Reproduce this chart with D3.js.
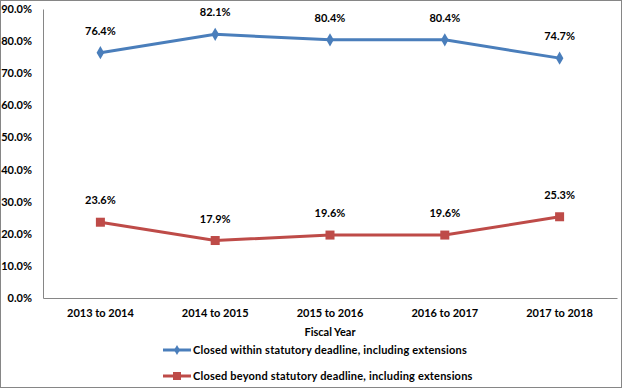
<!DOCTYPE html>
<html>
  <head>
    <script src="https://cdn.jsdelivr.net/npm/d3@7"></script>
    <style>
      body { margin: 0; background: #fff; }
      text { font-family: Lato, "Open Sans", sans-serif; font-weight: bold; font-size: 11px; fill: #000; }
    </style>
  </head>
  <body>
    <div id="main"></div>
  <script>
    var svgWidth = 623;
    var svgHeight = 389;

    var categories = ["2013 to 2014", "2014 to 2015", "2015 to 2016", "2016 to 2017", "2017 to 2018"];
    var withinValues = [76.4, 82.1, 80.4, 80.4, 74.7];
    var beyondValues = [23.6, 17.9, 19.6, 19.6, 25.3];
    var yTicks = [0, 10, 20, 30, 40, 50, 60, 70, 80, 90];
    var seriesNames = ["Closed within statutory deadline, including extensions",
                       "Closed beyond statutory deadline, including extensions"];
    var colors = ["#4a7ebb", "#be4b48"];

    var margin = { left: 43, right: 6, top: 9, bottom: 91 };

    var svg = d3.select("#main").append("svg")
      .attr("width", svgWidth)
      .attr("height", svgHeight);

    // outer border
    svg.append("rect")
      .attr("x", 0.5).attr("y", 0.5)
      .attr("width", svgWidth - 2).attr("height", svgHeight - 2)
      .style("fill", "none").style("stroke", "#868686");

    var x = d3.scaleBand()
      .domain(categories)
      .range([margin.left, svgWidth - margin.right]);

    var y = d3.scaleLinear()
      .domain([0, 90])
      .range([svgHeight - margin.bottom, margin.top]);

    // y axis
    var yAxis = svg.append("g")
      .attr("transform", "translate(" + margin.left + ",0)")
      .call(d3.axisLeft(y).tickValues(yTicks).tickSize(0).tickPadding(11)
        .tickFormat(function(d) { return d.toFixed(1) + "%"; }));
    yAxis.select(".domain").style("stroke", "#868686");

    // x axis
    var xAxis = svg.append("g")
      .attr("transform", "translate(0," + y(0) + ")")
      .call(d3.axisBottom(x).tickSize(0).tickPadding(11));
    xAxis.select(".domain").style("stroke", "#868686");
    svg.selectAll(".tick text").style("font-size", "11px").style("font-family", "Lato, sans-serif");

    svg.append("text")
      .attr("x", (margin.left + svgWidth - margin.right) / 2)
      .attr("y", 336)
      .attr("text-anchor", "middle")
      .text("Fiscal Year");

    var line = d3.line()
      .x(function(d, i) { return x(categories[i]) + x.bandwidth() / 2; })
      .y(function(d) { return y(d); });

    var allSeries = [withinValues, beyondValues];

    allSeries.forEach(function(vals, s) {
      svg.append("path")
        .attr("d", line(vals))
        .style("fill", "none")
        .style("stroke", colors[s])
        .style("stroke-width", 3);

      var g = svg.append("g");
      vals.forEach(function(v, i) {
        var cx = x(categories[i]) + x.bandwidth() / 2;
        var cy = y(v);
        if (s === 0) {
          g.append("path")
            .attr("d", d3.symbol().type(d3.symbolDiamond).size(50)())
            .attr("transform", "translate(" + cx + "," + cy + ")")
            .style("fill", colors[s]);
        } else {
          g.append("rect")
            .attr("x", cx - 4.5).attr("y", cy - 4.5)
            .attr("width", 9).attr("height", 9)
            .style("fill", colors[s]);
        }
        g.append("text")
          .attr("x", cx)
          .attr("y", cy - 18)
          .attr("text-anchor", "middle")
          .text(v.toFixed(1) + "%");
      });
    });

    // legend
    var legend = svg.append("g");
    seriesNames.forEach(function(name, s) {
      var ly = 350 + s * 26;
      legend.append("line")
        .attr("x1", 163).attr("x2", 191)
        .attr("y1", ly).attr("y2", ly)
        .style("stroke", colors[s]).style("stroke-width", 3);
      if (s === 0) {
        legend.append("path")
          .attr("d", d3.symbol().type(d3.symbolDiamond).size(30)())
          .attr("transform", "translate(177," + ly + ")")
          .style("fill", colors[s]);
      } else {
        legend.append("rect")
          .attr("x", 173).attr("y", ly - 4)
          .attr("width", 8).attr("height", 8)
          .style("fill", colors[s]);
      }
      legend.append("text")
        .attr("x", 193)
        .attr("y", ly + 4)
        .style("letter-spacing", "0.2px")
        .text(name);
    });
  </script>
  </body>
</html>
